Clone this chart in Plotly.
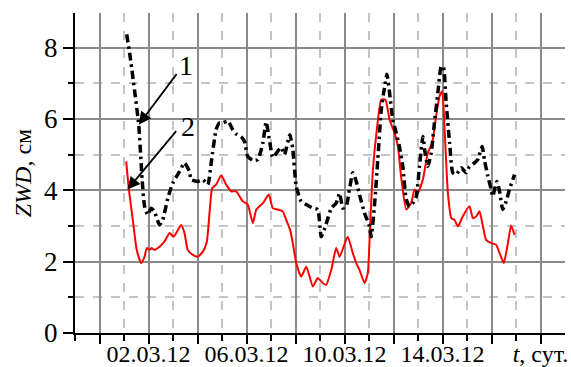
import pandas as pd
import plotly.graph_objects as go

# Time in days after 28.02.2012 00:00
black_days = [2.11, 2.24, 2.60, 2.74, 2.84, 2.97, 3.11, 3.24, 3.45, 3.58, 3.79, 3.99, 4.27, 4.47,
              4.67, 4.74, 5.01, 5.22, 5.42, 5.56, 5.76, 5.90, 6.03, 6.24, 6.44, 6.58, 6.78, 6.92,
              7.05, 7.26, 7.46, 7.67, 7.80, 7.94, 8.07, 8.28, 8.42, 8.55, 8.77, 8.89, 9.03, 9.23,
              9.44, 9.71, 9.91, 10.05, 10.25, 10.46, 10.66, 10.80, 10.93, 11.07, 11.20, 11.34,
              11.48, 11.61, 11.82, 12.02, 12.09, 12.22, 12.36, 12.50, 12.63, 12.73, 12.84, 12.97,
              13.11, 13.24, 13.38, 13.52, 13.65, 13.79, 13.93, 14.06, 14.20, 14.27, 14.40, 14.54,
              14.67, 14.81, 14.95, 15.04, 15.15, 15.29, 15.42, 15.56, 15.76, 15.97, 16.10, 16.31,
              16.44, 16.62, 16.71, 16.85, 16.99, 17.05, 17.22, 17.33, 17.46, 17.60, 17.73, 17.94]
black_zwd = [8.37, 7.80, 5.84, 4.30, 3.55, 3.31, 3.50, 3.41, 3.03, 3.17, 3.78, 4.20, 4.53, 4.77,
             4.53, 4.30, 4.25, 4.30, 4.16, 4.77, 5.70, 5.89, 5.89, 5.94, 5.70, 5.58, 5.50, 5.37,
             4.95, 4.84, 4.86, 5.33, 5.92, 5.40, 4.92, 5.10, 5.20, 5.00, 5.56, 5.15, 4.11, 3.69,
             3.60, 3.50, 3.46, 2.70, 3.05, 3.50, 3.64, 3.92, 3.50, 3.55, 4.02, 4.49,
             4.25, 3.88, 3.36, 2.99, 2.70, 3.55, 4.86, 6.26, 6.87, 7.25, 6.73, 5.98,
             5.61, 5.23, 4.67, 3.74, 3.55, 3.64, 3.83, 4.67, 5.51, 5.14, 4.67, 5.05,
             5.89, 6.73, 7.48, 7.44, 6.45, 5.33, 4.49, 4.44, 4.63, 4.49, 4.67, 4.77,
             4.86, 5.23, 4.86, 4.39, 4.02, 3.83, 4.25, 3.97, 3.46, 3.69, 4.02, 4.44]

red_days = [2.09, 2.20, 2.36, 2.52, 2.70, 2.84, 2.93, 3.04, 3.13, 3.24, 3.45, 3.65, 3.86, 4.02,
            4.13, 4.33, 4.47, 4.60, 4.81, 5.01, 5.22, 5.38, 5.49, 5.60, 5.76, 5.97, 6.17, 6.38,
            6.58, 6.85, 7.05, 7.26, 7.40, 7.67, 7.91, 8.07, 8.28, 8.48, 8.62, 8.78, 8.89, 9.03,
            9.23, 9.44, 9.71, 9.91, 10.11, 10.25, 10.46, 10.66, 10.80, 11.13, 11.34, 11.48,
            11.61, 11.82, 11.95, 12.05, 12.16, 12.32, 12.50, 12.67, 12.84, 13.04, 13.18, 13.31,
            13.52, 13.72, 13.86, 13.99, 14.20, 14.40, 14.58, 14.74, 14.88, 14.99, 15.08, 15.22,
            15.36, 15.49, 15.63, 15.83, 16.10, 16.24, 16.38, 16.51, 16.65, 16.78, 16.99, 17.19,
            17.33, 17.50, 17.67, 17.80, 17.94]
red_zwd = [4.81, 4.02, 3.17, 2.33, 1.96, 2.14, 2.38, 2.33, 2.38, 2.33, 2.42, 2.56, 2.80, 2.70,
           2.80, 3.03, 2.80, 2.33, 2.19, 2.14, 2.28, 2.56, 3.36, 4.06, 4.16, 4.42, 4.16, 3.97,
           3.97, 3.69, 3.60, 3.08, 3.46, 3.64, 3.88, 3.50, 3.46, 3.41, 3.17, 2.89, 2.52, 1.96,
           1.58, 1.86, 1.30, 1.54, 1.40, 1.35, 1.77, 2.38, 2.14, 2.70, 2.24, 1.96,
           1.77, 1.40, 1.68, 3.08, 4.58, 5.70, 6.54, 6.54, 5.98, 5.61, 5.23, 4.39,
           3.46, 3.64, 4.02, 3.92, 4.30, 5.05, 5.33, 6.08, 6.64, 6.78, 5.79, 3.92,
           3.22, 3.17, 2.99, 3.27, 3.55, 3.22, 3.27, 3.41, 2.99, 2.61, 2.52, 2.47,
           2.24, 1.96, 2.52, 3.01, 2.75]

date_labels = ["02.03.12", "06.03.12", "10.03.12", "14.03.12"]
label_days = [3, 7, 11, 15]
y_ticks = [0, 2, 4, 6, 8]

base = pd.Timestamp("2012-02-28")
to_dt = lambda d: base + pd.to_timedelta(d, unit="D")
bx = [to_dt(d) for d in black_days]
rx = [to_dt(d) for d in red_days]

FONT = "Liberation Serif"

fig = go.Figure()
fig.add_trace(go.Scatter(x=rx, y=red_zwd, mode="lines",
                         line=dict(color="#ff0000", width=2, shape="spline", smoothing=0.5),
                         showlegend=False))
fig.add_trace(go.Scatter(x=bx, y=black_zwd, mode="lines",
                         line=dict(color="black", width=3.5, dash="8px,4px,2.5px,4px",
                                   shape="spline", smoothing=0.5),
                         showlegend=False))

major_days = list(range(1, 20, 2))
major_text = []
for d in major_days:
    if d in label_days:
        major_text.append(date_labels[label_days.index(d)])
    elif d == 19:
        major_text.append("<i>t</i>, сут.")
    else:
        major_text.append("")
minor_days = list(range(0, 19, 2))

fig.update_xaxes(
    type="date",
    range=[to_dt(0), to_dt(20)],
    tickvals=[to_dt(d) for d in major_days],
    ticktext=major_text,
    showline=True, linecolor="black", linewidth=2,
    ticks="outside", ticklen=9, tickwidth=2, tickcolor="black",
    ticklabelstandoff=-11,
    showgrid=True, gridcolor="#8a8a8a", gridwidth=2,
    minor=dict(tickvals=[to_dt(d) for d in minor_days], showgrid=True,
               gridcolor="#c4c4c4", gridwidth=1.5, griddash="dash",
               ticks="outside", ticklen=6, tickwidth=2, tickcolor="black"),
    tickfont=dict(family=FONT, size=24, color="black"),
    zeroline=False, automargin=False,
)
fig.update_yaxes(
    range=[0, 8.97],
    tickvals=y_ticks,
    showline=True, linecolor="black", linewidth=2,
    ticks="outside", ticklen=10, tickwidth=2, tickcolor="black",
    showgrid=True, gridcolor="#8a8a8a", gridwidth=2,
    minor=dict(tickvals=[1, 3, 5, 7], showgrid=True, gridcolor="#c4c4c4",
               gridwidth=1.5, griddash="dash",
               ticks="outside", ticklen=5, tickwidth=2, tickcolor="black"),
    tickfont=dict(family=FONT, size=27, color="black"),
    title=dict(text="<i>ZWD</i>, см", font=dict(family=FONT, size=24, color="black"),
               standoff=6),
    zeroline=False, automargin=False,
)

# Curve labels with arrows
arrow_heads = [(2.60, 5.84, 39, -52), (2.14, 4.02, 50, -60)]
for hd, hv, ax, ay in arrow_heads:
    fig.add_annotation(x=to_dt(hd), y=hv, ax=ax, ay=ay, xref="x", yref="y",
                       axref="pixel", ayref="pixel", text="", showarrow=True,
                       arrowhead=2, arrowsize=1.4, arrowwidth=1.8, arrowcolor="black")
curve_labels = ["1", "2"]
label_pos = [(4.55, 7.5), (4.6, 5.8)]
for txt, (d, v) in zip(curve_labels, label_pos):
    fig.add_annotation(x=to_dt(d), y=v, text=txt, showarrow=False,
                       font=dict(family=FONT, size=28, color="black"))

fig.update_layout(
    width=571, height=367,
    margin=dict(l=75, r=6, t=13, b=34),
    paper_bgcolor="white", plot_bgcolor="white",
    font=dict(family=FONT),
)

fig.write_html("out.html")
